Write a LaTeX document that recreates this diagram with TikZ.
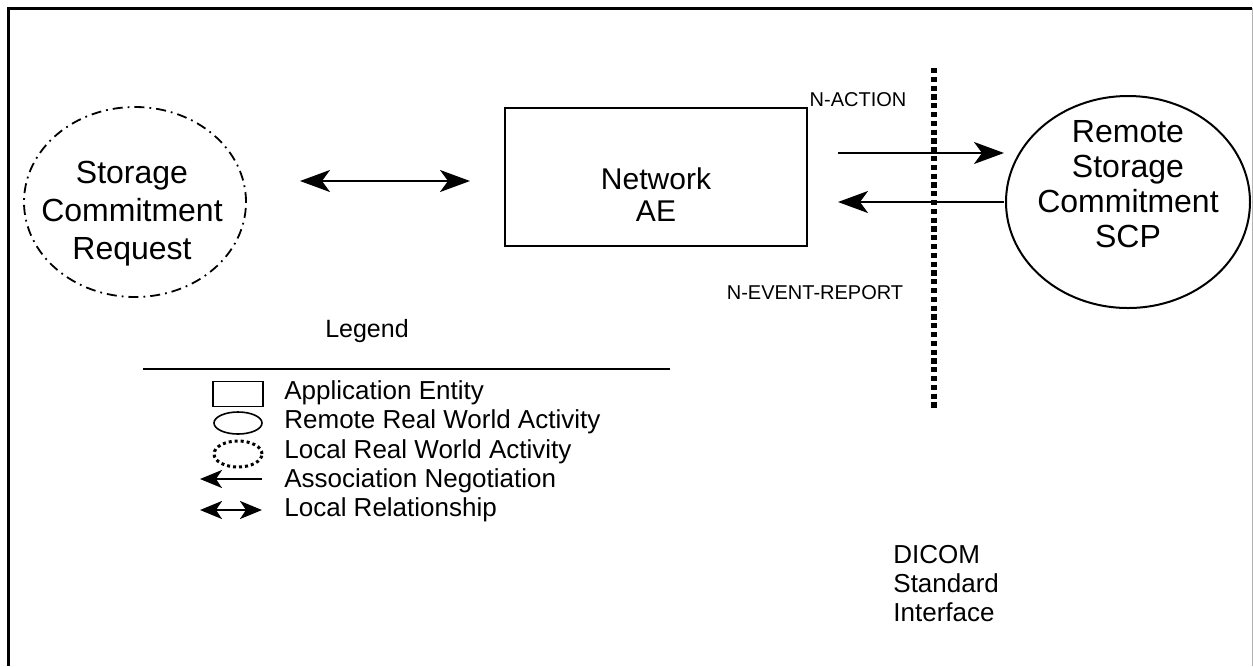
\documentclass[tikz,border=0pt]{standalone}
\usepackage{fontspec}
\setmainfont{Liberation Sans}
\usetikzlibrary{arrows.meta,shapes.geometric}
\tikzset{
  big/.style={font=\fontsize{16}{19}\selectfont, align=center},
  mid/.style={font=\fontsize{15}{16}\selectfont, align=center},
  small/.style={font=\fontsize{10}{12}\selectfont},
  leg/.style={font=\fontsize{13}{15}\selectfont, anchor=west, inner sep=0pt},
  dicom/.style={font=\fontsize{13}{14.5}\selectfont, align=left, anchor=north west, inner sep=0pt},
  dashdotline/.style={line width=0.9pt, dash pattern=on 5pt off 2.5pt on 0.9pt off 2.5pt},
  bigtip/.style={-{Stealth[length=15pt,width=11pt,inset=4pt]}, line width=1pt},
  bigboth/.style={{Stealth[length=15pt,width=11pt,inset=4pt]}-{Stealth[length=15pt,width=11pt,inset=4pt]}, line width=1pt},
  smalltip/.style={-{Stealth[length=11pt,width=9pt,inset=3pt]}, line width=1.3pt},
  smallboth/.style={{Stealth[length=11pt,width=9pt,inset=3pt]}-{Stealth[length=11pt,width=9pt,inset=3pt]}, line width=1.3pt},
  oval/.style={ellipse, draw, inner sep=0pt},
}
\begin{document}
\begin{tikzpicture}[x=0.5pt,y=-0.5pt]
\useasboundingbox (0,0) rectangle (1253,666);
% outer frame
\draw[line width=1.5pt] (8,666) -- (8,8) -- (1252,8);
\draw[black!30, line width=0.5pt] (1252,8) -- (1252,666);

% local activity
\node[oval, dashdotline, minimum width=111pt, minimum height=95pt] (req) at (135,202) {};
\node[big] (reqtext) at (132,214) {Storage\\Commitment\\Request};
% application entity
\node[draw, line width=1pt, minimum width=151pt, minimum height=69pt] (nae) at (656,177) {};
\node[mid] (naetext) at (656,195) {Network\\AE};
% remote activity
\node[oval, line width=1pt, minimum width=122pt, minimum height=106pt] (scp) at (1128,202) {};
\node[big, font=\fontsize{16}{17.5}\selectfont] (scptext) at (1128,184) {Remote\\Storage\\Commitment\\SCP};

% local relationship
\coordinate (lr1) at (300,181);
\coordinate (lr2) at (470,181);
\draw[bigboth] (lr1) -- (lr2);

% DICOM interface
\coordinate (dtop) at (934,68);
\coordinate (dbot) at (934,408);
\draw[line width=2.6pt, dash pattern=on 2.6pt off 1.8pt] (dtop) -- (dbot);

% messages
\coordinate (na1) at (838,153);
\coordinate (na2) at (1004,153);
\coordinate (ne1) at (1004,202);
\coordinate (ne2) at (838,202);
\draw[bigtip] (na1) -- (na2);
\draw[bigtip] (ne1) -- (ne2);
\node[small] (nact) at (858,100) {N-ACTION};
\node[small] (nevt) at (815,293) {N-EVENT-REPORT};

% legend
\node[font=\fontsize{12.5}{14}\selectfont] (legtitle) at (367,331) {Legend};
\coordinate (lg1) at (143,369);
\coordinate (lg2) at (670,369);
\draw[line width=0.8pt] (lg1) -- (lg2);

\node[draw, line width=0.8pt, minimum width=25pt, minimum height=12.5pt, inner sep=0pt] (kae) at (238,394) {};
\node[leg] (tae) at (284,393) {Application Entity};
\node[oval, line width=0.8pt, minimum width=24pt, minimum height=11pt] (krem) at (238,423) {};
\node[leg] (trem) at (284,422) {Remote Real World Activity};
\node[oval, line width=1.5pt, dash pattern=on 1.5pt off 1.5pt, minimum width=24pt, minimum height=13pt] (kloc) at (238,454) {};
\node[leg] (tloc) at (284,452) {Local Real World Activity};
\coordinate (kan1) at (262,479);
\coordinate (kan2) at (200,479);
\draw[smalltip] (kan1) -- (kan2);
\node[leg] (tan) at (284,481) {Association Negotiation};
\coordinate (klr1) at (200,510);
\coordinate (klr2) at (262,510);
\draw[smallboth] (klr1) -- (klr2);
\node[leg] (tlr) at (284,510) {Local Relationship};

\node[dicom] (dicom) at (893,545) {DICOM\\Standard\\Interface};
\end{tikzpicture}
\end{document}
